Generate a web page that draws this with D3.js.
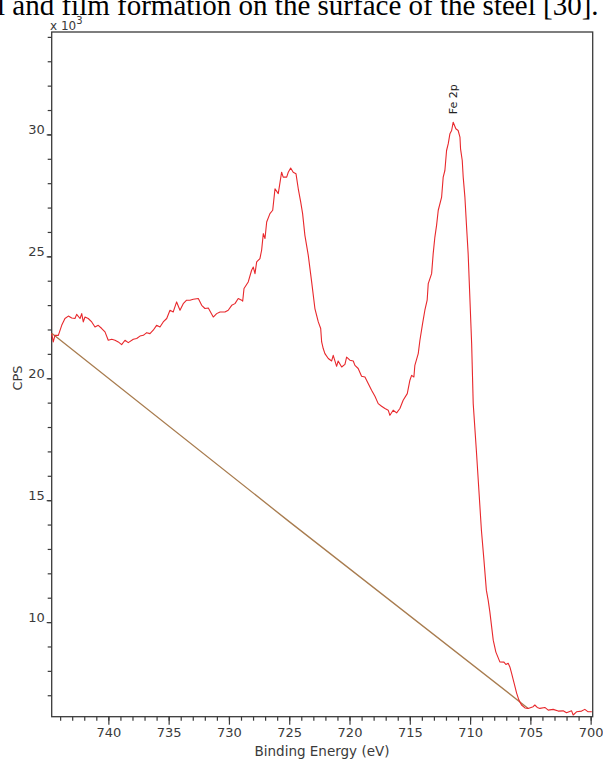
<!DOCTYPE html>
<html>
<head>
<meta charset="utf-8">
<script src="https://cdn.jsdelivr.net/npm/d3@7"></script>
<style>
  html, body { margin: 0; padding: 0; background: #fff; }
  svg { display: block; }
</style>
</head>
<body>
<div id="chart"></div>
<script>
// ---- data (binding energy in eV, counts in thousands of CPS) ----
const specEnergy = [744.70,744.57,744.43,744.15,743.87,743.60,743.32,743.04,742.77,742.63,742.35,742.21,742.08,741.94,741.67,741.38,741.11,740.84,740.55,740.28,740.01,739.72,739.45,739.18,738.90,738.62,738.35,737.93,737.65,737.38,737.10,736.82,736.55,736.28,736.00,735.72,735.45,735.16,734.89,734.62,734.34,734.06,733.79,733.51,733.23,732.96,732.54,732.26,731.99,731.71,731.30,731.02,730.74,730.33,730.06,729.77,729.50,729.23,728.94,728.86,728.75,728.40,728.12,727.98,727.84,727.70,727.43,727.29,727.15,727.01,726.87,726.60,726.37,726.18,725.91,725.63,725.50,725.21,725.08,724.88,724.67,724.44,724.25,724.05,723.89,723.70,723.42,723.14,722.87,722.59,722.39,722.31,722.18,722.04,721.76,721.48,721.35,721.07,720.94,720.65,720.38,720.24,719.97,719.69,719.55,719.28,719.00,718.72,718.45,718.17,717.89,717.62,717.34,717.06,716.79,716.65,716.38,716.09,715.82,715.55,715.21,714.99,714.85,714.66,714.58,714.30,714.16,713.94,713.75,713.56,713.47,713.19,713.06,712.92,712.78,712.64,712.36,712.23,712.09,711.95,711.81,711.67,711.53,711.40,711.18,710.99,710.84,710.79,710.65,710.57,710.43,710.29,710.16,710.02,709.87,709.74,709.48,709.27,709.06,708.85,708.65,708.50,708.36,708.08,707.86,707.53,707.19,707.03,706.84,706.70,706.56,706.37,706.14,705.95,705.73,705.45,705.18,704.77,704.63,704.43,704.21,703.80,703.52,703.11,702.69,702.28,702.00,701.58,701.45,701.17,700.75,700.48,700.21,699.90];
const specCounts = [21.83,21.49,21.76,21.76,22.17,22.45,22.55,22.47,22.45,22.62,22.45,22.65,22.31,22.51,22.45,22.31,22.10,22.17,22.04,21.90,21.56,21.60,21.56,21.49,21.38,21.56,21.46,21.60,21.63,21.73,21.76,21.87,21.83,21.97,22.17,22.10,22.31,22.45,22.79,22.72,23.13,22.79,23.06,23.20,23.20,23.24,23.27,22.99,22.86,22.88,22.51,22.65,22.72,22.72,22.79,22.99,23.06,23.27,23.20,23.16,23.68,23.95,24.43,24.56,24.29,24.77,24.91,25.25,25.93,25.73,26.41,26.75,26.89,27.77,27.57,28.45,28.25,28.25,28.45,28.62,28.45,28.39,27.77,27.23,26.75,25.86,25.04,23.95,22.86,22.31,22.04,21.49,21.22,21.01,20.81,20.71,20.94,20.49,20.71,20.46,20.57,20.87,20.74,20.71,20.53,20.40,20.08,20.05,19.78,19.51,19.26,18.96,18.85,18.76,18.69,18.48,18.69,18.58,18.76,19.10,19.37,19.92,20.12,20.05,20.53,21.01,21.56,22.24,22.79,23.20,23.88,24.29,25.11,25.79,26.27,26.89,27.43,28.25,28.52,29.34,29.62,30.03,30.16,30.50,30.23,30.16,29.89,29.41,28.93,28.25,27.43,26.20,25.11,23.33,21.42,18.96,17.05,15.41,13.77,12.54,11.31,10.90,10.42,9.26,8.77,8.37,8.36,8.26,8.31,8.16,7.91,7.54,7.09,6.80,6.60,6.48,6.46,6.53,6.60,6.50,6.46,6.50,6.39,6.42,6.35,6.36,6.28,6.36,6.19,6.32,6.35,6.42,6.32,6.32];

const bgEnergy = [744.70, 725.00, 705.18];
const bgCounts = [21.85, 14.12, 6.46];

const xTickValues = [740, 735, 730, 725, 720, 715, 710, 705, 700];
const yTickValues = [10, 15, 20, 25, 30];
const xDomain = [744.7, 699.83];
const yDomain = [6.12, 34.2];
const peakLabel = "Fe 2p";
const peakEnergy = 711.40;
const peakCounts = 30.50;

// ---- layout ----
const W = 603, H = 760;
const mLeft = 51.7, mRight = 592.7, mTop = 32, mBottom = 716.7;

const svg = d3.select("#chart").append("svg")
  .attr("width", W).attr("height", H);

// cropped caption line from the source document
svg.append("text")
  .attr("x", -3).attr("y", 15)
  .attr("font-family", "Liberation Serif, Times New Roman, serif")
  .attr("font-size", 29)
  .attr("fill", "#000")
  .text("l and film formation on the surface of the steel [30].");

const x = d3.scaleLinear().domain(xDomain).range([mLeft, mRight]);
const y = d3.scaleLinear().domain(yDomain).range([mBottom, mTop]);

const axisColor = "#3a3a3a";
const font = "DejaVu Sans, Verdana, sans-serif";

// frame
svg.append("rect")
  .attr("x", mLeft).attr("y", mTop)
  .attr("width", mRight - mLeft).attr("height", mBottom - mTop)
  .attr("fill", "none").attr("stroke", axisColor).attr("stroke-width", 1.3);

// x axis minor ticks
const xMinor = d3.range(744, 699, -1);
const xAxisMinor = d3.axisBottom(x).tickValues(xMinor).tickSize(4).tickFormat("");
const gxm = svg.append("g").attr("transform", `translate(0,${mBottom})`).call(xAxisMinor);
// x axis major ticks
const xAxis = d3.axisBottom(x).tickValues(xTickValues).tickSize(8).tickPadding(3).tickFormat(d3.format("d"));
const gx = svg.append("g").attr("transform", `translate(0,${mBottom})`).call(xAxis);

// y axis minor ticks
const yMinor = d3.range(7, 35, 1);
const yAxisMinor = d3.axisLeft(y).tickValues(yMinor).tickSize(4).tickFormat("");
const gym = svg.append("g").attr("transform", `translate(${mLeft},0)`).call(yAxisMinor);
const yAxis = d3.axisLeft(y).tickValues(yTickValues).tickSize(5).tickPadding(2).tickFormat(d3.format("d"));
const gy = svg.append("g").attr("transform", `translate(${mLeft},0)`).call(yAxis);

[gxm, gx, gym, gy].forEach(g => {
  g.select(".domain").remove();
  g.selectAll(".tick line").attr("stroke", axisColor).attr("stroke-width", 1.2);
  g.selectAll(".tick text").attr("fill", "#3a3a3a").attr("font-family", font).attr("font-size", 13);
});
gy.selectAll(".tick text").attr("dy", "-0.05em");

// axis titles
svg.append("text")
  .attr("x", 322).attr("y", 756)
  .attr("text-anchor", "middle")
  .attr("font-family", font).attr("font-size", 13.5).attr("fill", "#3a3a3a")
  .text("Binding Energy (eV)");

svg.append("text")
  .attr("transform", `translate(22,378) rotate(-90)`)
  .attr("text-anchor", "middle")
  .attr("font-family", font).attr("font-size", 13).attr("fill", "#3a3a3a")
  .text("CPS");

const mult = svg.append("text")
  .attr("x", 50).attr("y", 29.5)
  .attr("font-family", font).attr("font-size", 12).attr("fill", "#3a3a3a");
mult.append("tspan").text("x 10");
mult.append("tspan").attr("dy", -6).attr("font-size", 10).text("3");

// background line
const line = d3.line().x(d => x(d[0])).y(d => y(d[1]));
svg.append("path")
  .datum(bgEnergy.map((e, i) => [e, bgCounts[i]]))
  .attr("d", line)
  .attr("fill", "none").attr("stroke", "#a87c4f").attr("stroke-width", 1.3);

// spectrum
svg.append("path")
  .datum(specEnergy.map((e, i) => [e, specCounts[i]]))
  .attr("d", line)
  .attr("fill", "none").attr("stroke", "#e8282c").attr("stroke-width", 1.1)
  .attr("stroke-linejoin", "round");

// peak label
svg.append("text")
  .attr("transform", `translate(${x(peakEnergy) + 4},${y(peakCounts) - 8}) rotate(-90)`)
  .attr("text-anchor", "start")
  .attr("font-family", font).attr("font-size", 11).attr("fill", "#222")
  .text(peakLabel);
</script>
</body>
</html>
